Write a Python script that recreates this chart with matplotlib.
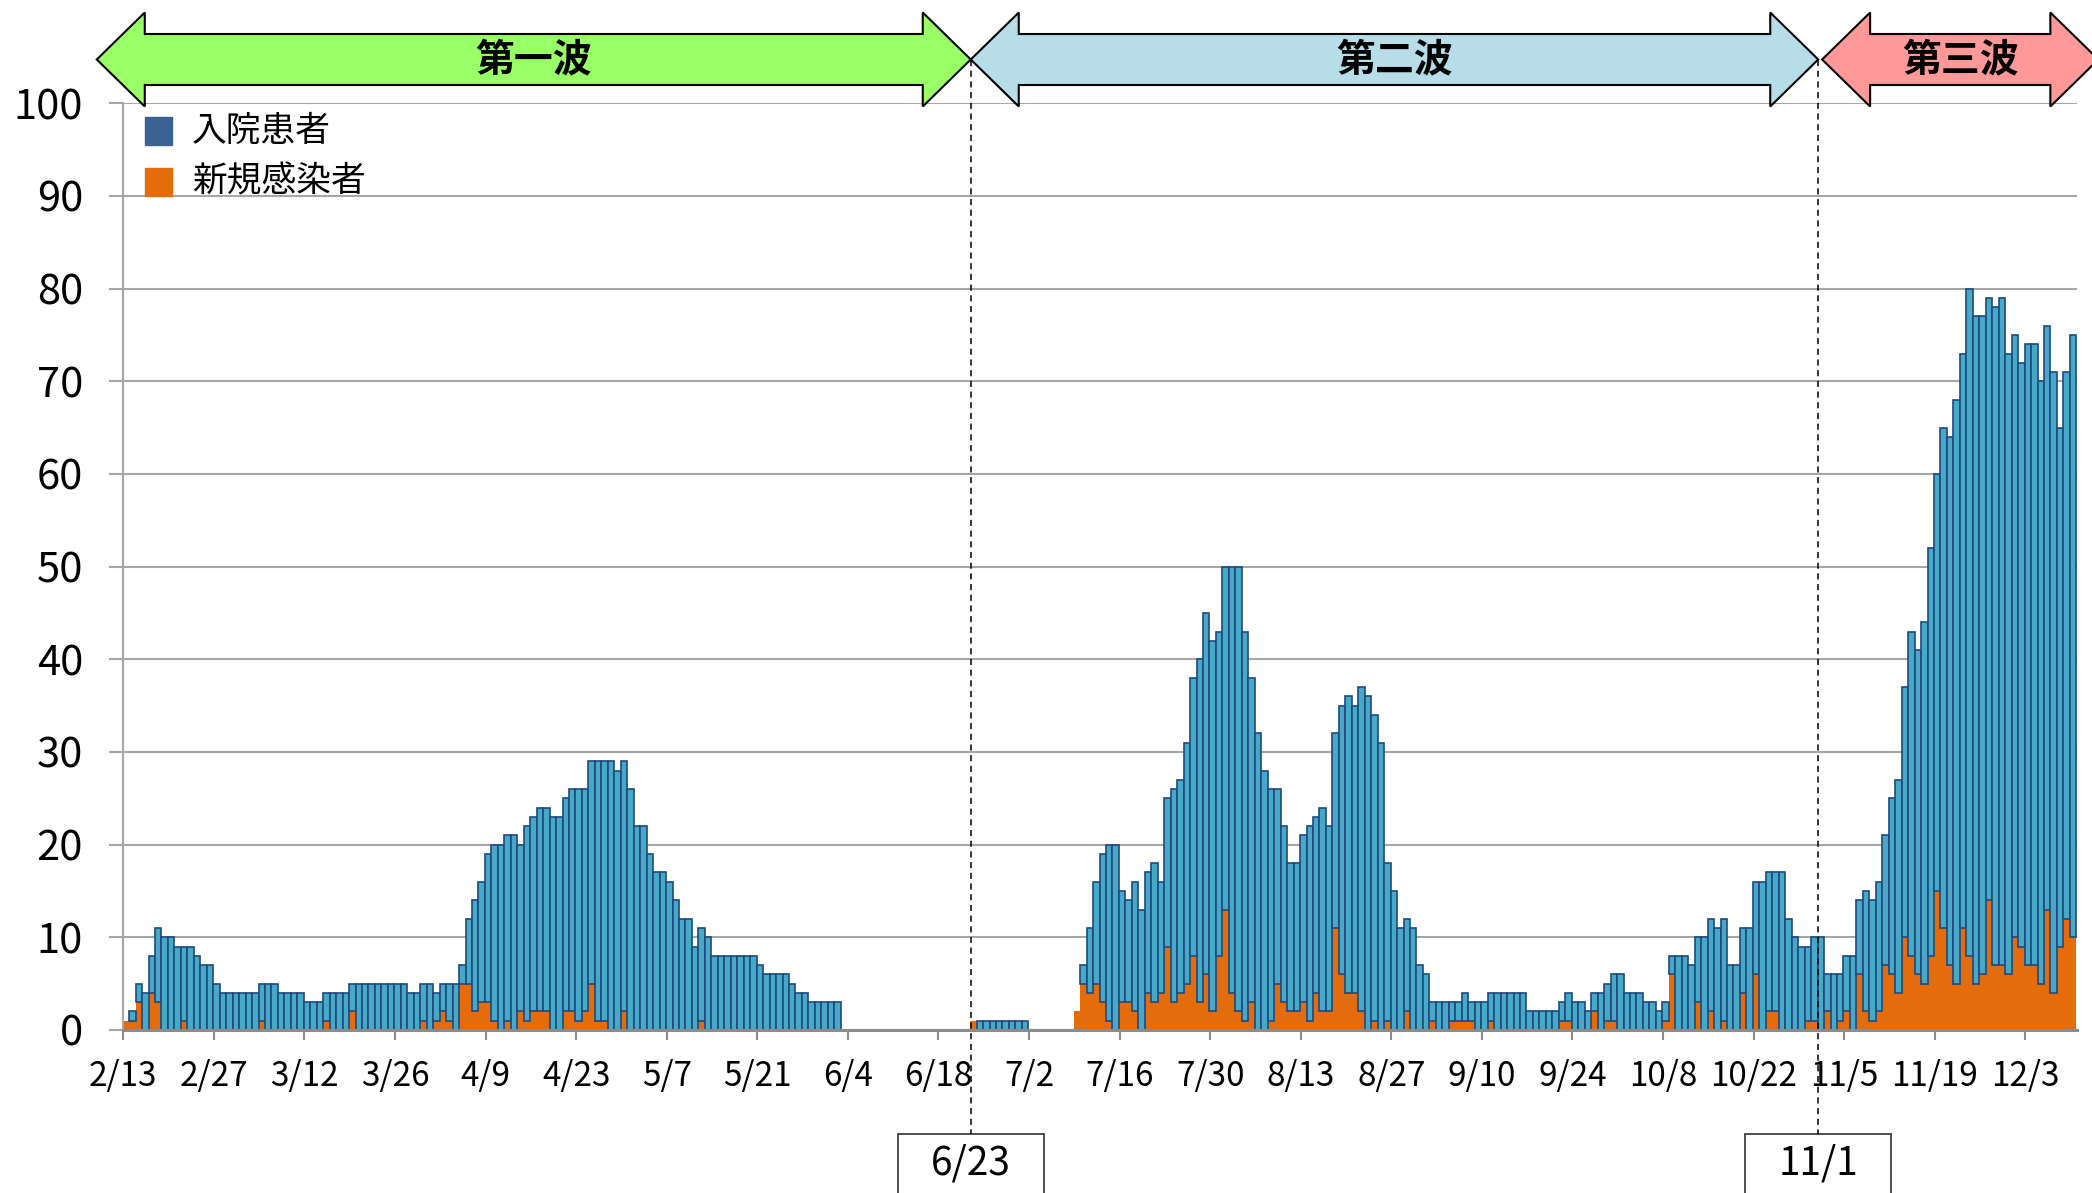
import numpy as np
import pandas as pd
import matplotlib
matplotlib.use("Agg")
import matplotlib.pyplot as plt
from matplotlib.patches import Polygon, Rectangle
from matplotlib.lines import Line2D

plt.rcParams['font.family'] = ['Noto Sans CJK JP', 'DejaVu Sans']

# ---- data -----------------------------------------------------------------
start_date = "2020-02-13"

# daily inpatients (入院患者), one value per day from 2/13
hospitalized = [
    # Feb 13-29
    1, 2, 5, 4, 8, 11, 10, 10, 9, 9, 9, 8, 7, 7, 5, 4, 4,
    # Mar
    4, 4, 4, 4, 5, 5, 5, 4, 4, 4, 4, 3, 3, 3, 4, 4, 4, 4, 5, 5, 5, 5,
    5, 5, 5, 5, 5, 4, 4, 5, 5,
    # Apr
    4, 5, 5, 5, 7, 12, 14, 16, 19, 20, 20, 21, 21, 20, 22, 23, 24, 24,
    23, 23, 25, 26, 26, 26, 29, 29, 29, 29, 28, 29,
    # May
    26, 22, 22, 19, 17, 17, 16, 14, 12, 12, 9, 11, 10, 8, 8, 8, 8, 8,
    8, 8, 7, 6, 6, 6, 6, 5, 4, 4, 3, 3, 3,
    # Jun
    3, 3, 0, 0, 0, 0, 0, 0, 0, 0, 0, 0, 0, 0, 0, 0, 0, 0, 0, 0, 0, 0,
    1, 1, 1, 1, 1, 1, 1, 1,
    # Jul
    1, 0, 0, 0, 0, 0, 0, 0, 2, 7, 11, 16, 19, 20, 20, 15, 14, 16, 13,
    17, 18, 16, 25, 26, 27, 31, 38, 40, 45, 42, 43,
    # Aug
    50, 50, 50, 43, 38, 32, 28, 26, 26, 22, 18, 18, 21, 22, 23, 24,
    22, 32, 35, 36, 35, 37, 36, 34, 31, 18, 15, 11, 12, 11, 7,
    # Sep
    6, 3, 3, 3, 3, 3, 4, 3, 3, 3, 4, 4, 4, 4, 4, 4, 2, 2, 2, 2, 2, 3,
    4, 3, 3, 2, 4, 4, 5, 6,
    # Oct
    6, 4, 4, 4, 3, 3, 2, 3, 8, 8, 8, 7, 10, 10, 12, 11, 12, 7, 7, 11,
    11, 16, 16, 17, 17, 17, 12, 10, 9, 9, 10,
    # Nov
    10, 6, 6, 6, 8, 8, 14, 15, 14, 16, 21, 25, 27, 37, 43, 41, 44, 52,
    60, 65, 64, 68, 73, 80, 77, 77, 79, 78, 79, 73,
    # Dec 1-10
    75, 72, 74, 74, 70, 76, 71, 65, 71, 75,
]

# daily new infections (新規感染者)
new_cases = [
    # Feb 13-29
    1, 1, 3, 0, 4, 3, 0, 0, 0, 1, 0, 0, 0, 0, 0, 0, 0,
    # Mar
    0, 0, 0, 0, 1, 0, 0, 0, 0, 0, 0, 0, 0, 0, 1, 0, 0, 0, 2, 0, 0, 0,
    0, 0, 0, 0, 0, 0, 0, 1, 0,
    # Apr
    1, 2, 1, 0, 5, 5, 2, 3, 3, 1, 0, 1, 0, 2, 1, 2, 2, 2,
    0, 0, 2, 2, 1, 2, 5, 1, 1, 0, 0, 2,
    # May
    0, 0, 0, 0, 0, 0, 0, 0, 0, 0, 0, 1, 0, 0, 0, 0, 0, 0,
    0, 0, 0, 0, 0, 0, 0, 0, 0, 0, 0, 0, 0,
    # Jun
    0, 0, 0, 0, 0, 0, 0, 0, 0, 0, 0, 0, 0, 0, 0, 0, 0, 0, 0, 0, 0, 0,
    1, 0, 0, 0, 0, 0, 0, 0,
    # Jul
    0, 0, 0, 0, 0, 0, 0, 0, 2, 5, 4, 5, 3, 1, 0, 3, 3, 2, 0,
    4, 3, 4, 9, 3, 4, 5, 8, 3, 6, 2, 8,
    # Aug
    13, 4, 2, 1, 3, 0, 0, 1, 5, 3, 2, 2, 3, 1, 4, 2,
    2, 11, 6, 4, 4, 2, 0, 1, 0, 1, 0, 0, 2, 0, 0,
    # Sep
    0, 1, 0, 0, 1, 1, 1, 1, 0, 0, 1, 0, 0, 0, 0, 0, 0, 0, 0, 0, 0, 1,
    1, 0, 0, 0, 2, 0, 1, 1,
    # Oct
    0, 0, 0, 0, 0, 0, 0, 1, 6, 0, 0, 0, 3, 0, 2, 0, 1, 0, 0, 4,
    0, 6, 0, 2, 2, 0, 0, 0, 0, 1, 1,
    # Nov
    0, 2, 0, 1, 2, 0, 6, 2, 1, 2, 7, 6, 4, 10, 8, 6, 5, 8,
    15, 11, 7, 5, 11, 8, 5, 6, 14, 7, 7, 6,
    # Dec 1-10
    10, 9, 7, 7, 5, 13, 4, 9, 12, 10,
]

series_labels = ["入院患者", "新規感染者"]
wave_labels = ["第一波", "第二波", "第三波"]
marker_dates = ["2020-06-23", "2020-11-01"]
y_ticks = list(range(0, 101, 10))

# ---- styling --------------------------------------------------------------
BLUE_FILL = "#46A9C8"
BLUE_EDGE = "#1F497D"
BLUE_KEY = "#3A6393"
ORANGE = "#E46C0A"
GRID = "#A6A6A6"
AXIS = "#8C8C8C"
WAVE_COLORS = ["#99FF66", "#B7DEE8", "#FF9999"]

W, H = 2092, 1193
fig = plt.figure(figsize=(W / 100, H / 100), dpi=100)
ax = fig.add_axes([123.3 / W, 1 - 1030 / H, (2077 - 123.3) / W, (1030 - 103.3) / H])

hosp = np.array(hospitalized, dtype=float)
new = np.array(new_cases, dtype=float)
dates = pd.date_range(start_date, periods=len(hosp), freq="D")
idx = np.arange(len(hosp))
centers = idx + 0.4

# new infections at the base, inpatients stacked up to their daily total
ax.bar(centers, new, width=1.0, color=ORANGE, linewidth=0, zorder=2)
upper = np.clip(hosp - new, 0, None)
keep = upper > 0
ax.bar(centers[keep], upper[keep], bottom=new[keep], width=1.0,
       color=BLUE_FILL, edgecolor=BLUE_EDGE, linewidth=1.2, zorder=3)

ax.set_xlim(0, len(hosp))
ax.set_ylim(0, 100)
ax.set_axisbelow(True)
ax.set_yticks(y_ticks)
ax.yaxis.grid(True, color=GRID, linewidth=1.5)
ax.tick_params(axis="y", length=10, width=1.5, color=GRID, pad=19,
               labelsize=30, labelcolor="black")

tick_pos = idx[::14]
ax.set_xticks(tick_pos)
ax.set_xticklabels([f"{d.month}/{d.day}" for d in dates[::14]])
ax.tick_params(axis="x", length=7, width=1.5, color=AXIS, pad=14,
               labelsize=24, labelcolor="black")

for side in ("top", "right"):
    ax.spines[side].set_visible(False)
ax.spines["left"].set_color(GRID)
ax.spines["left"].set_linewidth(1.5)
ax.spines["bottom"].set_color(AXIS)
ax.spines["bottom"].set_linewidth(2.2)
ax.spines["bottom"].set_zorder(4)

# ---- legend ---------------------------------------------------------------
for k, (lab, col) in enumerate(zip(series_labels, [BLUE_KEY, ORANGE])):
    yc = 131 + 51 * k
    fig.patches.append(Rectangle((145 / W, 1 - (yc + 14) / H), 27 / W, 28 / H,
                                 transform=fig.transFigure, color=col))
    fig.text(192 / W, 1 - yc / H, lab, fontsize=25, va="center", ha="left")

# ---- wave arrows, date markers -------------------------------------------
fig.canvas.draw()
to_fig = fig.transFigure.inverted()


def xpix(day):
    return ax.transData.transform((day, 0))[0]


def fpt(x, y):
    return to_fig.transform((x, H - y))


split1 = dates.get_loc(pd.Timestamp(marker_dates[0]))
split2 = dates.get_loc(pd.Timestamp(marker_dates[1]))
spans = [(xpix(-4.1), xpix(split1)),
         (xpix(split1), xpix(split2)),
         (xpix(split2 + 0.6), xpix(split2 + 43.3))]

yc, head_h, body_h, head_l = 59.5, 47, 25.5, 48
for (x0, x1), lab, col in zip(spans, wave_labels, WAVE_COLORS):
    pts = [(x0, yc), (x0 + head_l, yc - head_h), (x0 + head_l, yc - body_h),
           (x1 - head_l, yc - body_h), (x1 - head_l, yc - head_h), (x1, yc),
           (x1 - head_l, yc + head_h), (x1 - head_l, yc + body_h),
           (x0 + head_l, yc + body_h), (x0 + head_l, yc + head_h)]
    fig.patches.append(Polygon([fpt(*p) for p in pts], closed=True,
                               transform=fig.transFigure, facecolor=col,
                               edgecolor="black", linewidth=1.5,
                               joinstyle="miter", zorder=5))
    tx, ty = fpt((x0 + x1) / 2, yc)
    fig.text(tx, ty, lab, fontsize=28, fontweight="bold",
             ha="center", va="center", zorder=6)

for day in (split1, split2):
    xm = xpix(day)
    (fx0, fy0), (fx1, fy1) = fpt(xm, yc), fpt(xm, 1134)
    fig.lines.append(Line2D([fx0, fx1], [fy0, fy1], transform=fig.transFigure,
                            color="black", linewidth=1.1,
                            linestyle=(0, (4, 3)), zorder=7))
    bx, by = fpt(xm - 73, 1200)
    fig.patches.append(Rectangle((bx, by), 146 / W, (1200 - 1134) / H,
                                 transform=fig.transFigure, facecolor="white",
                                 edgecolor="#404040", linewidth=1.3))
    tx, ty = fpt(xm, 1163)
    d = dates[day]
    fig.text(tx, ty, f"{d.month}/{d.day}", fontsize=28, ha="center", va="center")

fig.savefig("out.png", dpi=100)
